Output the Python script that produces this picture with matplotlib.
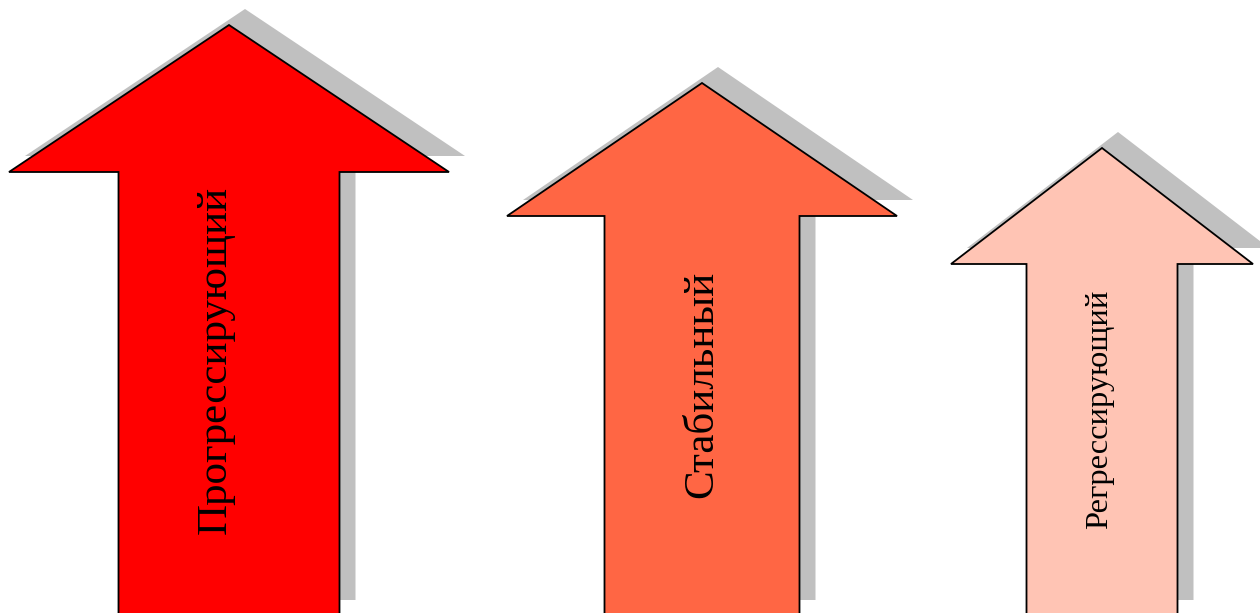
import matplotlib.pyplot as plt
from matplotlib.patches import Polygon

# Arrow labels, tip heights (px above the bottom edge) and fills
labels = ["Прогрессирующий", "Стабильный", "Регрессирующий"]
tip_heights = [588, 530, 465]
colors = ["#FF0000", "#FF6644", "#FFC4B4"]

# Layout of each arrow: centre x, head half-width, shaft half-width, head height
centers = [229, 702, 1102]
head_half = [220, 195, 151]
shaft_half = [110.5, 97.5, 75.5]
head_len = [147, 133, 116]
font_px = [43, 43, 32.5]
text_dx = [-13, 0, -2]
text_y = [360, 384, 409]

W, H = 1260, 613
fig = plt.figure(figsize=(W / 100, H / 100), dpi=100)
ax = fig.add_axes([0, 0, 1, 1])
ax.set_xlim(0, W)
ax.set_ylim(0, H)
ax.axis("off")

bottom = -3
shadow = 16


def arrow_points(cx, tip, hh, sh, hl, dx=0, dy=0):
    base = tip - hl
    pts = [(cx, tip), (cx + hh, base), (cx + sh, base), (cx + sh, bottom),
           (cx - sh, bottom), (cx - sh, base), (cx - hh, base)]
    return [(x + dx, y + dy) for x, y in pts]


for i, lab in enumerate(labels):
    cx = centers[i]
    tip = tip_heights[i]
    # drop shadow
    ax.add_patch(Polygon(arrow_points(cx, tip, head_half[i], shaft_half[i], head_len[i], shadow, shadow),
                         closed=True, facecolor="#C0C0C0", edgecolor="none", zorder=1))
    ax.add_patch(Polygon(arrow_points(cx, tip, head_half[i], shaft_half[i], head_len[i]),
                         closed=True, facecolor=colors[i], edgecolor="black", linewidth=1.3,
                         joinstyle="miter", zorder=2))
    ax.text(cx + text_dx[i], H - text_y[i], lab, rotation=90, ha="center", va="center",
            family="Liberation Serif", fontsize=font_px[i] * 0.72, zorder=3)

fig.savefig("out.png", dpi=100)
